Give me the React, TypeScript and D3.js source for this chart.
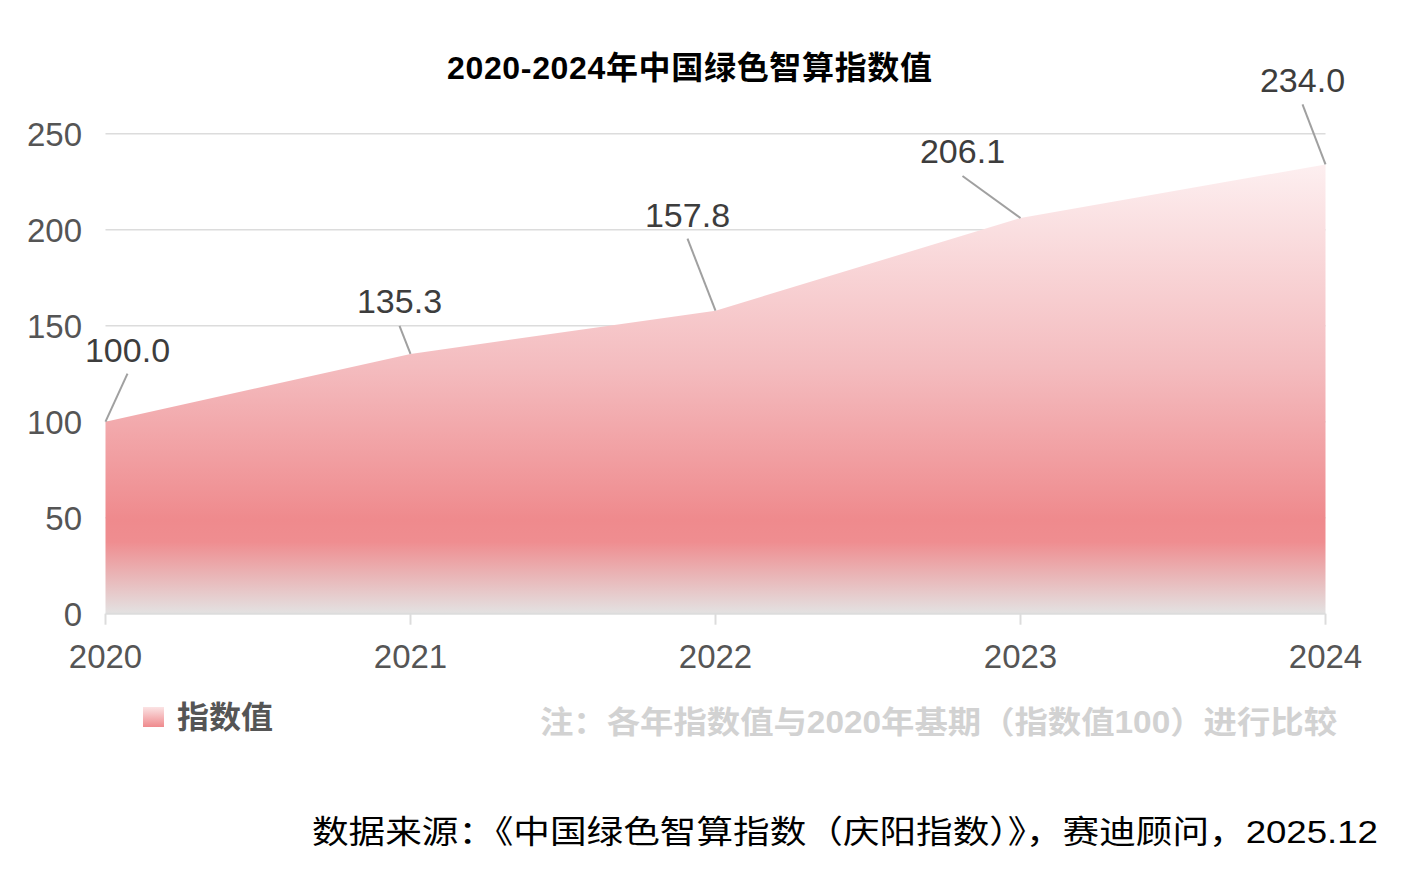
import * as d3 from "d3";

const years = [2020, 2021, 2022, 2023, 2024];
const values = [100.0, 135.3, 157.8, 206.1, 234.0];
const yTicks = [0, 50, 100, 150, 200, 250];

const title = "2020-2024年中国绿色智算指数值";
const seriesName = "指数值";
const note = "注：各年指数值与2020年基期（指数值100）进行比较";
const source = "数据来源：《中国绿色智算指数（庆阳指数）》，赛迪顾问，2025.12";

// label leader offsets relative to each point (layout only)
const leaderOffsets = [
  [22, -48],
  [-11, -28],
  [-28, -72],
  [-58, -42],
  [-23, -60],
];
const labelGap = [12, 13, 12, 13, 12];

const W = 1412;
const H = 882;
const NUM_FONT = "'Liberation Sans', Arial, sans-serif";
const CJK_FONT = "'Liberation Sans', 'Noto Sans CJK SC', sans-serif";

export default function App() {
  const x = d3.scaleLinear().domain([2020, 2024]).range([105.5, 1325.5]);
  const y = d3.scaleLinear().domain([0, 250]).range([613.7, 133.7]);

  const pts = years.map((yr, i) => ({ yr, v: values[i] }));
  const area = d3
    .area<{ yr: number; v: number }>()
    .x((d) => x(d.yr))
    .y0(y(0))
    .y1((d) => y(d.v));

  const topY = y(d3.max(values) as number);

  return (
    <svg
      width={W}
      height={H}
      style={{ position: "absolute", left: 0, top: 0, background: "#fff" }}
    >
      <defs>
        <linearGradient
          id="areaGrad"
          gradientUnits="userSpaceOnUse"
          x1={0}
          x2={0}
          y1={topY}
          y2={y(0)}
        >
          <stop offset="0" stopColor="#fdeff0" />
          <stop offset="0.45" stopColor="#f4bcbf" />
          <stop offset="0.79" stopColor="#ef8a8d" />
          <stop offset="0.84" stopColor="#ef8d90" />
          <stop offset="1" stopColor="#e3e2e2" />
        </linearGradient>
        <linearGradient id="legendGrad" x1="0" x2="0" y1="0" y2="1">
          <stop offset="0" stopColor="#fbe3e4" />
          <stop offset="1" stopColor="#ef8a8d" />
        </linearGradient>
      </defs>

      {/* title */}
      <text
        x={689.5}
        y={79}
        textAnchor="middle"
        fontFamily={CJK_FONT}
        fontWeight="bold"
        fontSize={32}
        fill="#000"
        textLength={485}
        lengthAdjust="spacing"
      >
        {title}
      </text>

      {/* grid */}
      {yTicks.slice(1).map((t) => (
        <line
          key={t}
          x1={x(2020)}
          x2={x(2024)}
          y1={y(t)}
          y2={y(t)}
          stroke="#dcdcdc"
          strokeWidth={1.5}
        />
      ))}

      {/* y labels */}
      {yTicks.map((t) => (
        <text
          key={t}
          x={82}
          y={y(t) + 12}
          textAnchor="end"
          fontFamily={NUM_FONT}
          fontSize={33}
          fill="#555"
        >
          {t}
        </text>
      ))}

      {/* area */}
      <path d={area(pts) as string} fill="url(#areaGrad)" />

      {/* x axis */}
      <line
        x1={x(2020)}
        x2={x(2024)}
        y1={y(0)}
        y2={y(0)}
        stroke="#dcdcdc"
        strokeWidth={2}
      />
      {years.map((yr) => (
        <g key={yr}>
          <line
            x1={x(yr)}
            x2={x(yr)}
            y1={y(0)}
            y2={y(0) + 11}
            stroke="#dcdcdc"
            strokeWidth={2}
          />
          <text
            x={x(yr)}
            y={668}
            textAnchor="middle"
            fontFamily={NUM_FONT}
            fontSize={33}
            fill="#555"
          >
            {yr}
          </text>
        </g>
      ))}

      {/* data labels */}
      {pts.map((d, i) => {
        const px = x(d.yr);
        const py = y(d.v);
        const [dx, dy] = leaderOffsets[i];
        return (
          <g key={d.yr}>
            <line
              x1={px}
              y1={py}
              x2={px + dx}
              y2={py + dy}
              stroke="#a0a0a0"
              strokeWidth={2}
            />
            <text
              x={px + dx}
              y={py + dy - labelGap[i]}
              textAnchor="middle"
              fontFamily={NUM_FONT}
              fontSize={34}
              fill="#3d3d3d"
            >
              {d.v.toFixed(1)}
            </text>
          </g>
        );
      })}

      {/* legend */}
      <rect x={143} y={707} width={21} height={20} fill="url(#legendGrad)" />
      <text
        x={177}
        y={728}
        fontFamily={CJK_FONT}
        fontWeight="bold"
        fontSize={31}
        fill="#555"
        textLength={96}
        lengthAdjust="spacingAndGlyphs"
      >
        {seriesName}
      </text>

      {/* note */}
      <text
        x={540}
        y={733}
        fontFamily={CJK_FONT}
        fontWeight="bold"
        fontSize={31}
        fill="#d2d2d2"
        textLength={797}
        lengthAdjust="spacingAndGlyphs"
      >
        {note}
      </text>

      {/* source */}
      <text
        x={312}
        y={843}
        fontFamily={CJK_FONT}
        fontSize={32}
        fill="#000"
        textLength={1066}
        lengthAdjust="spacingAndGlyphs"
      >
        {source}
      </text>
    </svg>
  );
}
